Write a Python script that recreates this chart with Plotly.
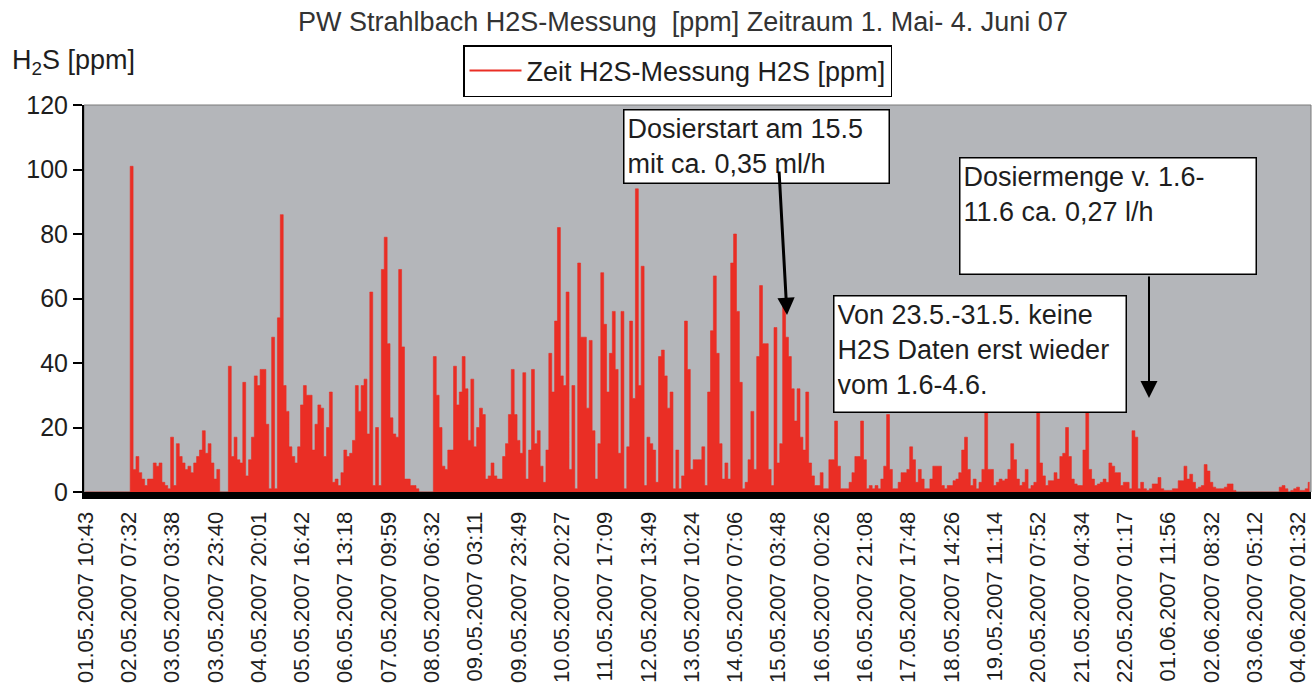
import plotly.graph_objects as go

# ---------------- data ----------------
tick_labels = [
    "01.05.2007 10:43", "02.05.2007 07:32", "03.05.2007 03:38", "03.05.2007 23:40",
    "04.05.2007 20:01", "05.05.2007 16:42", "06.05.2007 13:18", "07.05.2007 09:59",
    "08.05.2007 06:32", "09.05.2007 03:11", "09.05.2007 23:49", "10.05.2007 20:27",
    "11.05.2007 17:09", "12.05.2007 13:49", "13.05.2007 10:24", "14.05.2007 07:06",
    "15.05.2007 03:48", "16.05.2007 00:26", "16.05.2007 21:08", "17.05.2007 17:48",
    "18.05.2007 14:26", "19.05.2007 11:14", "20.05.2007 07:52", "21.05.2007 04:34",
    "22.05.2007 01:17", "01.06.2007 11:56", "02.06.2007 08:32", "03.06.2007 05:12",
    "04.06.2007 01:32",
]
samples_per_label = 15

# H2S [ppm], resampled reading of the measurement series (15 samples per label step)
h2s_ppm = [
    0, 0, 0, 0, 0, 0, 0, 0, 0, 0, 0, 0, 0, 0, 0,
    0, 101, 7, 11, 6, 4, 2, 4, 4, 9, 8, 9, 3, 2, 1,
    17, 2, 15, 11, 9, 7, 8, 6, 9, 11, 13, 19, 12, 15, 9,
    4, 7, 0, 0, 0, 39, 11, 17, 10, 9, 34, 5, 10, 17, 36,
    33, 38, 38, 21, 1, 48, 1, 54, 86, 33, 25, 14, 11, 9, 14,
    27, 33, 30, 30, 13, 21, 27, 26, 11, 20, 31, 3, 4, 2, 6,
    13, 11, 12, 16, 33, 25, 33, 35, 18, 62, 2, 20, 2, 69, 79,
    46, 23, 18, 17, 69, 45, 4, 4, 2, 2, 1, 0, 0, 0, 0,
    0, 42, 30, 20, 8, 7, 13, 13, 39, 27, 31, 42, 32, 16, 35,
    14, 20, 26, 24, 4, 5, 9, 5, 4, 4, 11, 15, 24, 38, 24,
    16, 12, 37, 4, 13, 38, 15, 19, 8, 3, 13, 43, 31, 53, 82,
    36, 33, 62, 7, 33, 1, 71, 48, 48, 26, 47, 19, 4, 15, 68,
    52, 31, 43, 56, 38, 12, 56, 1, 14, 53, 29, 94, 33, 70, 2,
    17, 15, 13, 3, 42, 44, 36, 26, 31, 1, 13, 1, 5, 53, 38,
    7, 10, 10, 10, 14, 2, 31, 50, 67, 43, 15, 4, 9, 4, 71,
    80, 56, 34, 1, 3, 10, 25, 7, 42, 64, 46, 46, 7, 2, 51,
    9, 15, 60, 48, 42, 32, 22, 32, 17, 13, 31, 9, 5, 2, 2,
    6, 1, 1, 10, 10, 22, 8, 1, 1, 1, 3, 6, 11, 11, 22,
    10, 1, 2, 1, 2, 1, 4, 8, 24, 7, 1, 1, 3, 6, 6,
    7, 14, 10, 3, 7, 4, 1, 1, 4, 8, 8, 8, 2, 1, 2,
    2, 3.5, 4, 6, 13, 17, 7, 2, 4, 1, 3, 7, 25, 7, 7,
    2, 3, 4, 3.5, 4, 7, 15, 10, 4, 2, 3, 7, 1, 2, 3,
    25, 9, 5, 2, 3.5, 3.5, 6, 4, 11, 12, 20, 11, 4, 2.5, 2,
    2, 13, 25, 7, 4, 2, 2.5, 3, 4, 3, 9, 8, 6, 6, 2,
    3, 3, 1, 19, 17, 1, 3, 1, 0.5, 1, 2.5, 2.5, 4.5, 1, 0.5,
    0.5, 0.5, 1, 1, 3.5, 3.5, 8, 4, 5.5, 3, 1, 1.5, 2, 8.5, 6.5,
    3, 1.5, 1, 1, 1, 1.5, 2.5, 2.5, 0.5, 0, 0, 0, 0, 0, 0,
    0, 0, 0, 0, 0, 0, 0, 0, 0, 1.5, 2, 1, 0, 0.5, 1,
    1.5, 0.5, 0.5, 1, 3,
]

series_name = "Zeit H2S-Messung H2S [ppm]"
title_text = "PW Strahlbach H2S-Messung\u00a0 [ppm] Zeitraum 1. Mai- 4. Juni 07"
y_title = "H<sub>2</sub>S [ppm]"
note_dosierstart = "Dosierstart am 15.5<br>mit ca. 0,35 ml/h"
note_dosiermenge = "Dosiermenge v. 1.6-<br>11.6 ca. 0,27 l/h"
note_luecke = "Von 23.5.-31.5. keine<br>H2S Daten erst wieder<br>vom 1.6-4.6."

# ---------------- styling ----------------
RED = "#ea2e25"
PLOT_BG = "#b4b6ba"
TXT = "#1e1e1e"
FONT = "Liberation Sans, Arial, sans-serif"

W, H = 1313, 686
L, R, T, B = 84, 2, 105, 194
PW, PH = W - L - R, H - T - B


def px_x(x):
    return (x - L) / PW


def px_y(y):
    return (H - B - y) / PH


sample_index = list(range(len(h2s_ppm)))
tick_positions = [k * samples_per_label for k in range(len(tick_labels))]

fig = go.Figure()
fig.add_trace(go.Scatter(
    x=sample_index, y=h2s_ppm, mode="lines", line_shape="hvh",
    line=dict(color=RED, width=0.6), fill="tozeroy", fillcolor=RED,
    showlegend=False, hoverinfo="x+y",
))
# legend entry (line symbol as in the original)
fig.add_trace(go.Scatter(
    x=[None], y=[None], mode="lines", line=dict(color=RED, width=2),
    name=series_name,
))

fig.update_layout(
    width=W, height=H,
    margin=dict(l=L, r=R, t=T, b=B, pad=0, autoexpand=False),
    paper_bgcolor="white", plot_bgcolor=PLOT_BG,
    font=dict(family=FONT, color=TXT, size=24),
    title=dict(text=title_text, x=683 / W, xanchor="center",
               y=1 - 22 / H, yanchor="middle",
               font=dict(size=27, color="#333333", family=FONT)),
    showlegend=True,
    legend=dict(x=px_x(463), y=px_y(45), xanchor="left", yanchor="top",
                bgcolor="white", bordercolor="black", borderwidth=1.5,
                font=dict(size=27, color=TXT, family=FONT),
                orientation="h", itemwidth=52),
)

fig.update_xaxes(
    range=[-0.5, len(h2s_ppm) - 0.5],
    tickmode="array", tickvals=tick_positions, ticktext=tick_labels,
    tickangle=-90, tickfont=dict(size=22, color=TXT, family=FONT),
    ticks="", showgrid=False, zeroline=False, ticklabelstandoff=4,
    showline=True, linecolor="black", linewidth=7,
)
fig.update_yaxes(
    range=[0, 120], tickmode="array", tickvals=[0, 20, 40, 60, 80, 100, 120],
    ticks="outside", ticklen=9, tickwidth=1.5, tickcolor="black",
    tickfont=dict(size=25, color=TXT, family=FONT),
    showgrid=False, zeroline=False,
    showline=True, linecolor="black", linewidth=2,
)

# thin frame of the plot area (top / right)
fig.add_shape(type="rect", xref="paper", yref="paper", x0=0, x1=1, y0=0, y1=1,
              line=dict(color="#7a7a7a", width=1), layer="below")

ann_font = dict(size=27, color=TXT, family=FONT)
fig.add_annotation(text=y_title, xref="paper", yref="paper",
                   x=px_x(10), y=px_y(62), xanchor="left", yanchor="middle",
                   showarrow=False, font=ann_font)

boxes = [
    (note_dosierstart, 623, 109, 267, 75),
    (note_dosiermenge, 959, 157, 298, 118),
    (note_luecke, 833, 295, 294, 118),
]
for text, bx, by, bw, bh in boxes:
    fig.add_annotation(
        text=text, xref="paper", yref="paper", x=px_x(bx), y=px_y(by),
        xanchor="left", yanchor="top", showarrow=False, align="left", valign="top",
        width=bw - 9, height=bh - 9, borderpad=3, borderwidth=1.5,
        bordercolor="black", bgcolor="white", font=ann_font,
    )

# arrows (tip, tail in pixels)
arrows = [((787, 315), (779, 170), 3, 1.15), ((1149, 398), (1149, 275), 2, 1.7)]
for (tx, ty), (sx, sy), aw, asz in arrows:
    fig.add_annotation(
        text="", xref="paper", yref="paper", x=px_x(tx), y=px_y(ty),
        ax=sx - tx, ay=sy - ty, axref="pixel", ayref="pixel",
        showarrow=True, arrowhead=2, arrowwidth=aw, arrowsize=asz,
        arrowcolor="black", standoff=0, startstandoff=0,
    )

fig.write_html("out.html",
               config={"displayModeBar": False},
               post_script="document.body.style.margin='0px';document.body.style.overflow='hidden';")
